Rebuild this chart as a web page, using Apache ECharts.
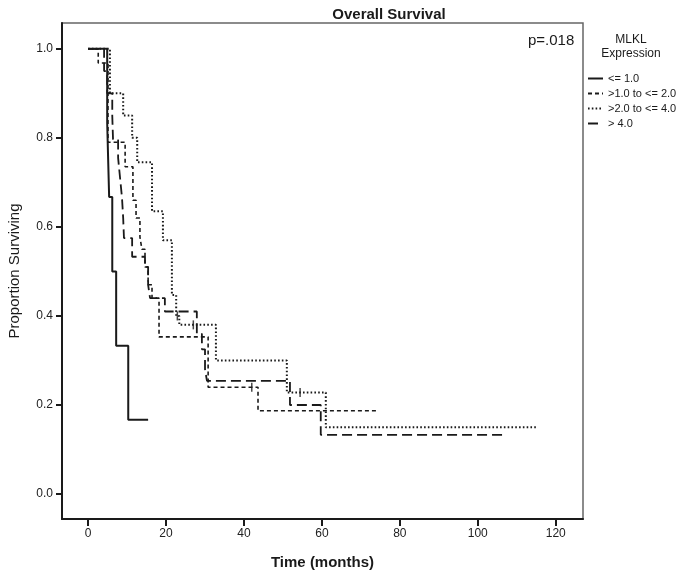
<!DOCTYPE html>
<html>
<head>
<meta charset="utf-8">
<script src="https://cdn.jsdelivr.net/npm/echarts@6/dist/echarts.min.js"></script>
<style>html,body{margin:0;padding:0;background:#fff}#c{width:696px;height:573px}</style>
</head>
<body>
<div id="c"></div>
<script>
// Kaplan-Meier step data: time of each drop (months) and survival after the drop
const groupNames = ['<= 1.0', '>1.0 to <= 2.0', '>2.0 to <= 4.0', '> 4.0'];

const timeG1 = [0, 4.9, 5.4, 6.2, 7.2, 10.3, 15.4];
const survG1 = [1.0, 0.833, 0.667, 0.5, 0.333, 0.167, 0.167];

const timeG2 = [0, 2.6, 5.1, 9.5, 11.5, 12.3, 13.3, 13.8, 14.6, 15.4, 16.4, 18.2, 30.8, 43.6, 74.1];
const survG2 = [1.0, 0.968, 0.79, 0.735, 0.66, 0.62, 0.577, 0.55, 0.51, 0.47, 0.44, 0.353, 0.24, 0.187, 0.187];

const timeG3 = [0, 5.6, 9.0, 11.3, 12.6, 16.4, 19.2, 21.5, 22.6, 23.4, 32.8, 51.0, 61.0, 115.1];
const survG3 = [1.0, 0.90, 0.85, 0.80, 0.745, 0.635, 0.57, 0.447, 0.40, 0.38, 0.30, 0.228, 0.15, 0.15];

const timeG4 = [0, 4.1, 4.9, 6.2, 6.4, 7.7, 8.2, 8.7, 9.0, 9.2, 11.3, 14.6, 15.4, 15.9, 19.7, 27.9, 29.2, 30.0, 30.5, 51.8, 59.7, 107.4];
const survG4 = [1.0, 0.95, 0.90, 0.85, 0.795, 0.755, 0.71, 0.665, 0.62, 0.575, 0.533, 0.51, 0.47, 0.44, 0.41, 0.36, 0.325, 0.28, 0.254, 0.20, 0.133, 0.133];

// censored observations
const censorTime = [22.9, 27.0, 54.4, 42.0];
const censorSurv = [0.40, 0.38, 0.228, 0.24];

const xTicks = [0, 20, 40, 60, 80, 100, 120];
const yTicks = [0, 0.2, 0.4, 0.6, 0.8, 1.0];

const pairs = (t, s) => t.map((v, i) => [v, s[i]]);
const FONT = 'Liberation Sans, Arial, sans-serif';
const INK = '#1a1a1a';

const styles = [
  { type: 'solid', width: 2 },
  { type: [4, 3], width: 1.6 },
  { type: [1.6, 2.2], width: 2 },
  { type: [10, 5], width: 1.8 }
];
const datasets = [pairs(timeG1, survG1), pairs(timeG2, survG2), pairs(timeG3, survG3), pairs(timeG4, survG4)];

const series = datasets.map((d, i) => ({
  name: groupNames[i],
  type: 'line',
  step: 'end',
  data: d,
  symbol: 'none',
  showSymbol: false,
  animation: false,
  lineStyle: { color: INK, width: styles[i].width, type: styles[i].type },
  itemStyle: { color: INK }
}));
series.push({
  name: 'censored',
  type: 'scatter',
  data: pairs(censorTime, censorSurv),
  symbol: 'rect',
  symbolSize: [1.5, 9],
  itemStyle: { color: INK },
  animation: false
});

const chart = echarts.init(document.getElementById('c'), null, { renderer: 'canvas' });
chart.setOption({
  backgroundColor: '#fff',
  animation: false,
  title: [{
    text: 'Overall Survival',
    left: 384, top: 2, textAlign: 'center',
    textStyle: { fontFamily: FONT, fontSize: 15, fontWeight: 'bold', color: INK }
  }],
  grid: { left: 62, right: 113, top: 23, bottom: 54, show: true, borderColor: '#666', borderWidth: 1.5,
          outerBoundsMode: 'none', containLabel: false },
  legend: {
    data: groupNames,
    orient: 'vertical',
    left: 582, top: 68,
    itemWidth: 15, itemHeight: 8, itemGap: 4,
    itemStyle: { opacity: 0, borderWidth: 0 },
    textStyle: { fontFamily: FONT, fontSize: 11, color: INK }
  },
  xAxis: {
    type: 'value', min: -6.7, max: 127,
    name: 'Time (months)', nameLocation: 'middle', nameGap: 36,
    nameTextStyle: { fontFamily: FONT, fontSize: 15, fontWeight: 'bold', color: INK },
    axisLine: { show: true, onZero: false, lineStyle: { color: INK, width: 2 } },
    axisTick: { show: true, customValues: xTicks, length: 7, inside: false, lineStyle: { color: INK, width: 2 } },
    axisLabel: { customValues: xTicks, fontFamily: FONT, fontSize: 12, color: '#222', margin: 9 },
    splitLine: { show: false }
  },
  yAxis: {
    type: 'value', min: -0.056, max: 1.058,
    name: 'Proportion Surviving', nameLocation: 'middle', nameGap: 40,
    nameTextStyle: { fontFamily: FONT, fontSize: 15, color: INK },
    axisLine: { show: true, onZero: false, lineStyle: { color: INK, width: 2 } },
    axisTick: { show: true, customValues: yTicks, length: 6, lineStyle: { color: INK, width: 2 } },
    axisLabel: { customValues: yTicks, fontFamily: FONT, fontSize: 12, color: '#222', margin: 9,
      formatter: v => v.toFixed(1) },
    splitLine: { show: false }
  },
  graphic: [
    { type: 'text', left: 528, top: 33, style: { text: 'p=.018', font: '15px ' + FONT, fill: INK } },
    { type: 'text', x: 631, y: 33, style: { text: 'MLKL\nExpression', font: '12px ' + FONT, fill: INK, align: 'center', lineHeight: 14 } }
  ],
  series: series
});
</script>
</body>
</html>
